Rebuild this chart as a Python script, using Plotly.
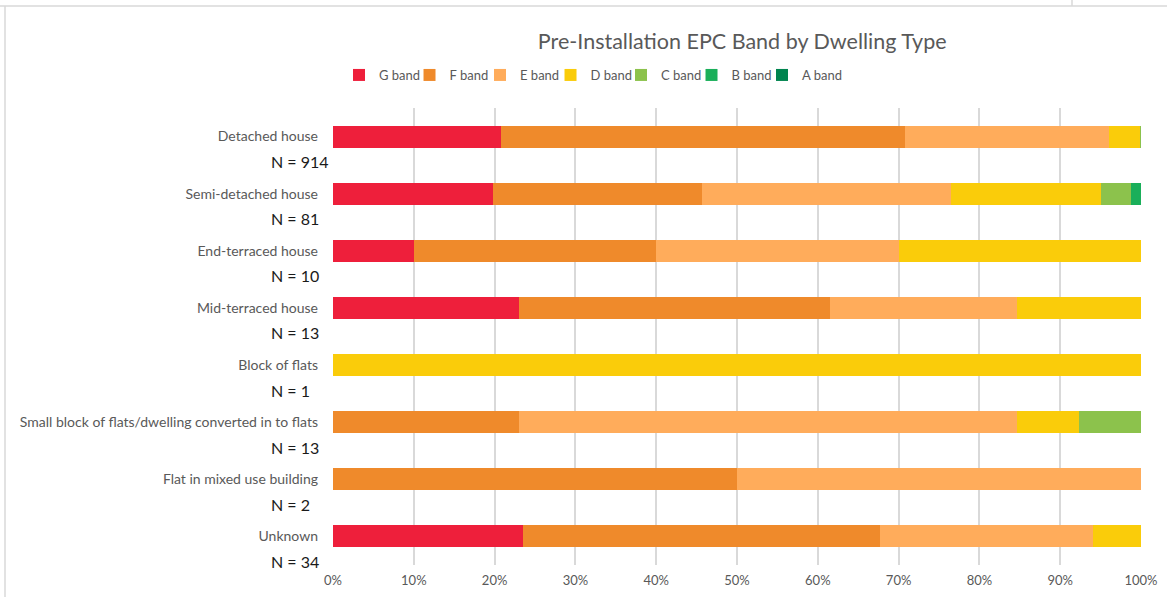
import plotly.graph_objects as go

# Dwelling types (top to bottom) and number of dwellings in each
dwelling_types = [
    "Detached house",
    "Semi-detached house",
    "End-terraced house",
    "Mid-terraced house",
    "Block of flats",
    "Small block of flats/dwelling converted in to flats",
    "Flat in mixed use building",
    "Unknown",
]
n_counts = [914, 81, 10, 13, 1, 13, 2, 34]

# Dwellings per pre-installation EPC band
band_names = ["G band", "F band", "E band", "D band", "C band", "B band", "A band"]
g_band = [190, 16, 1, 3, 0, 0, 0, 8]
f_band = [457, 21, 3, 5, 0, 3, 1, 15]
e_band = [231, 25, 3, 3, 0, 8, 1, 9]
d_band = [35, 15, 3, 2, 1, 1, 0, 2]
c_band = [1, 3, 0, 0, 0, 1, 0, 0]
b_band = [0, 1, 0, 0, 0, 0, 0, 0]
a_band = [0, 0, 0, 0, 0, 0, 0, 0]

band_values = [g_band, f_band, e_band, d_band, c_band, b_band, a_band]
band_colors = ["#EE1F3B", "#EF8A2B", "#FFAC5B", "#FACC0A", "#8CC24C", "#1AAF5A", "#00844F"]

x_ticks = [0, 10, 20, 30, 40, 50, 60, 70, 80, 90, 100]
x_tick_labels = ["0%", "10%", "20%", "30%", "40%", "50%", "60%", "70%", "80%", "90%", "100%"]

FONT = "Lato, 'Open Sans', sans-serif"
GREY = "#595959"
W, H = 1167, 597
ML, MR, MT, MB = 333, 26, 108, 32
PW, PH = W - ML - MR, H - MT - MB

fig = go.Figure()
for name, vals, col in zip(band_names, band_values, band_colors):
    fig.add_trace(go.Bar(
        name=name,
        y=dwelling_types,
        x=vals,
        orientation="h",
        marker=dict(color=col, line=dict(width=0)),
    ))

# transparent spacer entry so the last legend label is not clipped
fig.add_trace(go.Bar(
    name=" ", y=[dwelling_types[0]], x=[0], orientation="h",
    marker=dict(color="rgba(0,0,0,0)", line=dict(width=0, color="rgba(0,0,0,0)")),
    hoverinfo="skip",
))

# "N = ..." sample size shown under each dwelling type label
for cat, n in zip(dwelling_types, n_counts):
    fig.add_annotation(
        x=-64 / PW, xref="paper", xanchor="left",
        y=cat, yref="y", yanchor="middle", yshift=-25,
        text=f"N = {n}", showarrow=False,
        font=dict(family=FONT, size=16, color="#1a1a1a"),
    )


def py(pix):
    """Paper y coordinate for a pixel row measured from the top of the page."""
    return (H - MB - pix) / PH


def px(pix):
    return (pix - ML) / PW


fig.update_layout(
    width=W, height=H,
    barmode="stack", barnorm="percent", bargap=0.614,
    paper_bgcolor="white", plot_bgcolor="white",
    margin=dict(l=ML, r=MR, t=MT, b=MB, autoexpand=False),
    font=dict(family=FONT, size=13, color=GREY),
    title=dict(
        text="Pre-Installation EPC Band by Dwelling Type",
        x=0.636, xref="container", xanchor="center",
        y=1 - 41 / H, yref="container", yanchor="middle",
        font=dict(family=FONT, size=21.5, color=GREY),
    ),
    legend=dict(
        orientation="h", x=0.2905, xref="container", xanchor="left",
        y=1 - 75 / H, yref="container", yanchor="middle",
        traceorder="normal", entrywidth=25.5, entrywidthmode="pixels",
        itemwidth=30, font=dict(family=FONT, size=13, color=GREY),
    ),
    xaxis=dict(
        range=[0, 100], tickvals=x_ticks, ticktext=x_tick_labels,
        showgrid=True, gridcolor="#D9D9D9", gridwidth=1.5,
        zeroline=False, showline=False, ticks="", automargin=False,
        ticklabelstandoff=6,
        tickfont=dict(family=FONT, size=13, color=GREY),
        fixedrange=True,
    ),
    yaxis=dict(
        range=[len(dwelling_types) - 0.5, -0.5], showgrid=False, zeroline=False,
        showline=False, ticks="", ticklabelstandoff=14, automargin=False,
        tickfont=dict(family=FONT, size=14, color=GREY),
        fixedrange=True,
    ),
    shapes=[
        dict(type="line", xref="paper", yref="paper", x0=px(0), x1=px(W),
             y0=py(6), y1=py(6), line=dict(color="#D9D9D9", width=1.5)),
        dict(type="line", xref="paper", yref="paper", x0=px(5), x1=px(5),
             y0=py(H), y1=py(6), line=dict(color="#D9D9D9", width=1.5)),
        dict(type="line", xref="paper", yref="paper", x0=px(1072), x1=px(1072),
             y0=py(0), y1=py(6), line=dict(color="#D9D9D9", width=1.5)),
    ],
)

fig.write_html("out.html")
